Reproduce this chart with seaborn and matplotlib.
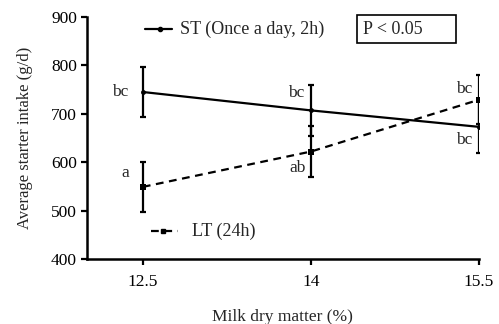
import matplotlib.pyplot as plt
from matplotlib.patches import Rectangle
import seaborn as sns
import numpy as np
import pandas as pd

# data
dry_matter = [12.5, 14, 15.5]
st_intake = [745, 707, 673]
st_sem = [52, 53, 54]
lt_intake = [549, 622, 729]
lt_sem = [51, 52, 51]
st_letters = ["bc", "bc", "bc"]
lt_letters = ["a", "ab", "bc"]

df = pd.DataFrame({
    "dm": dry_matter * 2,
    "intake": st_intake + lt_intake,
    "group": ["ST"] * 3 + ["LT"] * 3,
})

sns.set_theme(style="ticks")
plt.rcParams['font.family'] = ['Liberation Serif', 'DejaVu Serif']

fig = plt.figure(figsize=(4.99, 3.24), dpi=100)
ax = fig.add_axes([0.174, 0.2006, 0.786, 0.747])

dash = (0, (3.5, 2.5))
st = df[df.group == "ST"]
lt = df[df.group == "LT"]
sns.lineplot(data=st, x="dm", y="intake", ax=ax, color="black", lw=1.6,
             marker="o", markersize=3.5, markeredgewidth=0)
sns.lineplot(data=lt, x="dm", y="intake", ax=ax, color="black", lw=1.6,
             linestyle=dash, marker="s", markersize=4, markeredgewidth=0)

ax.errorbar(dry_matter, st_intake, yerr=st_sem, fmt="none", ecolor="black",
            elinewidth=1.6, capsize=2.5, capthick=1.6)
ax.errorbar(dry_matter, lt_intake, yerr=lt_sem, fmt="none", ecolor="black",
            elinewidth=1.6, capsize=2.5, capthick=1.6)

# significance letters
fs = 12.5
ax.text(12.30, 745, st_letters[0], ha="center", va="center", fontsize=fs)
ax.text(12.34, 578, lt_letters[0], ha="center", va="center", fontsize=fs)
ax.text(13.87, 743, st_letters[1], ha="center", va="center", fontsize=fs)
ax.text(13.88, 588, lt_letters[1], ha="center", va="center", fontsize=fs)
ax.text(15.37, 751, lt_letters[2], ha="center", va="center", fontsize=fs)
ax.text(15.37, 646, st_letters[2], ha="center", va="center", fontsize=fs)

# legend entries drawn in place
ax.plot([12.52, 12.76], [875, 875], color="black", lw=1.6)
ax.plot([12.65], [875], color="black", marker="o", markersize=3)
ax.text(12.835, 875, "ST (Once a day, 2h)", va="center", fontsize=13)
ax.plot([12.57, 12.81], [458, 458], color="black", lw=1.6, linestyle=dash)
ax.plot([12.68], [458], color="black", marker="s", markersize=3)
ax.text(12.94, 458, "LT (24h)", va="center", fontsize=13)
fig.patches.append(Rectangle((357 / 499, 1 - 43 / 324), 99 / 499, 28 / 324,
                             transform=fig.transFigure, fill=False,
                             ec="black", lw=1.2))
fig.text(363 / 499, 1 - 29 / 324, "P < 0.05", va="center", fontsize=13)

ax.set_xlim(12.0, 15.5)
ax.set_ylim(400, 900)
ax.set_xticks(dry_matter)
ax.set_xticklabels(["12.5", "14", "15.5"])
ax.set_yticks(np.arange(400, 901, 100))
ax.tick_params(axis="both", labelsize=12.5, width=1.6, length=4, color="black",
               labelcolor="black")
ax.tick_params(axis="x", pad=7)
ax.tick_params(axis="y", pad=3)
ax.set_xlabel("Milk dry matter (%)", fontsize=12.5)
ax.set_ylabel("Average starter intake (g/d)", fontsize=12)
ax.xaxis.set_label_coords(0.5, -0.205)
ax.yaxis.set_label_coords(-0.137, 0.5)
for s in ["left", "bottom"]:
    ax.spines[s].set_linewidth(1.8)
    ax.spines[s].set_color("black")
sns.despine(ax=ax)

fig.savefig("out.png", dpi=100)
